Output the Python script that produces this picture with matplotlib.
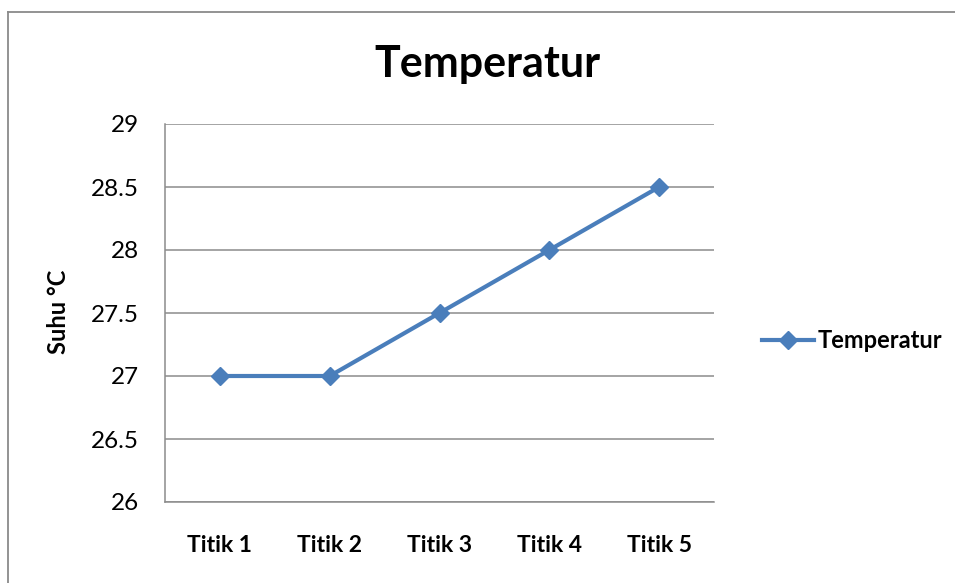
import matplotlib
matplotlib.use("Agg")
import matplotlib.pyplot as plt
from matplotlib.lines import Line2D

categories = ["Titik 1", "Titik 2", "Titik 3", "Titik 4", "Titik 5"]
temperatur = [27, 27, 27.5, 28, 28.5]
yticks = [26, 26.5, 27, 27.5, 28, 28.5, 29]
ytick_labels = ["26", "26.5", "27", "27.5", "28", "28.5", "29"]

FONT = ["Lato", "DejaVu Sans"]
LINE_COLOR = "#4a7ebb"
GRID_COLOR = "#8c8c8c"
W, H = 955, 583

fig = plt.figure(figsize=(9.55, 5.83), dpi=100)
fig.patch.set_facecolor("white")

# outer chart border (top and left only visible)
fig.add_artist(Line2D([8/W, 1.0], [1 - 12/H, 1 - 12/H], transform=fig.transFigure,
                      color="#8a8a8a", lw=1.3))
fig.add_artist(Line2D([8/W, 8/W], [0.0, 1 - 12/H], transform=fig.transFigure,
                      color="#8a8a8a", lw=1.3))

ax = fig.add_axes([165/W, 1 - 502/H, (714 - 165)/W, (502 - 124)/H])
x = list(range(len(categories)))
ax.plot(x, temperatur, color=LINE_COLOR, lw=3.0, marker="D", markersize=9,
        markerfacecolor=LINE_COLOR, markeredgecolor=LINE_COLOR, label="Temperatur",
        zorder=3, clip_on=False)

ax.set_xlim(-0.5, len(categories) - 0.5)
ax.set_ylim(26, 29)
ax.set_yticks(yticks)
ax.set_yticklabels(ytick_labels, fontfamily=FONT, fontsize=17.5)
ax.set_xticks(x)
ax.set_xticklabels(categories, fontfamily=FONT, fontsize=16.5, fontweight="bold")
ax.tick_params(axis="both", length=0, colors="black")
ax.tick_params(axis="y", pad=19)
ax.tick_params(axis="x", pad=24)
ax.grid(axis="y", color=GRID_COLOR, lw=1.1)
ax.set_axisbelow(True)
for s in ["top", "right"]:
    ax.spines[s].set_visible(False)
for s in ["left", "bottom"]:
    ax.spines[s].set_color(GRID_COLOR)
    ax.spines[s].set_linewidth(1.1)

fig.text(58/W, 1 - 312/H, "Suhu \u00b0C", rotation=90, ha="center", va="center",
         fontfamily=FONT, fontsize=17, fontweight="bold")

fig.text(487/W, 1 - 77/H, "Temperatur", ha="center", va="baseline",
         fontfamily=FONT, fontsize=31, fontweight="bold")

leg = ax.legend(loc="center left", bbox_to_anchor=(750/W, 1 - 341/H),
                bbox_transform=fig.transFigure, frameon=False,
                prop={"family": FONT, "size": 17, "weight": "bold"}, handlelength=2.2,
                handletextpad=0.15, borderpad=0)

fig.savefig("out.png", dpi=100)
